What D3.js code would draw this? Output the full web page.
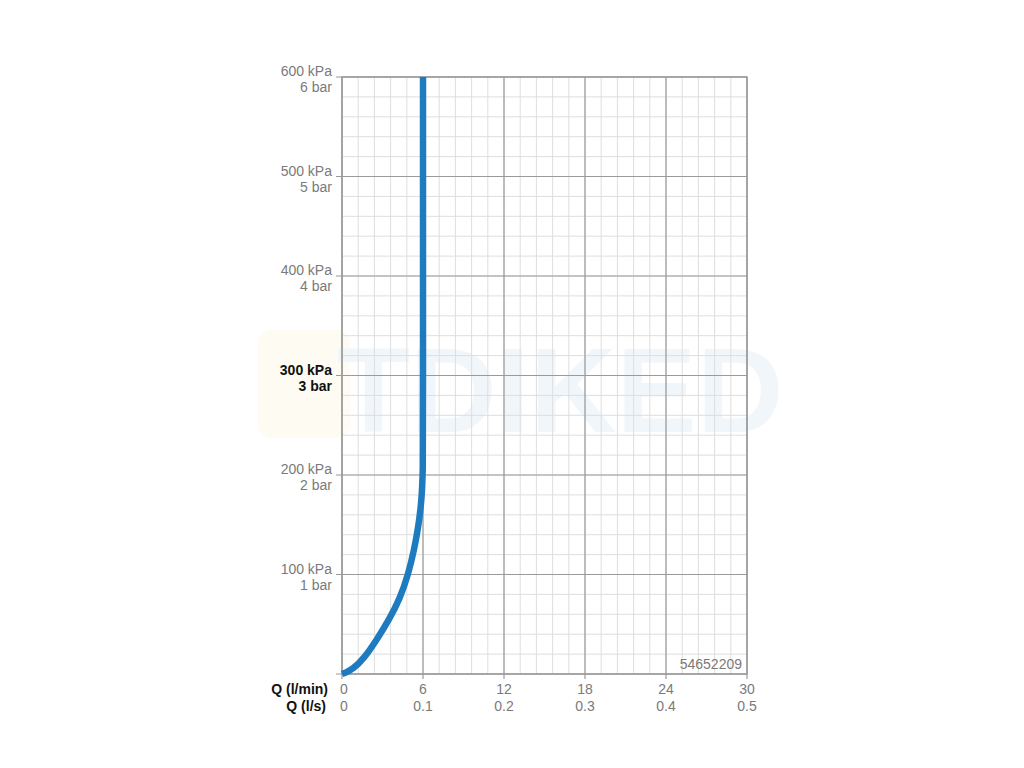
<!DOCTYPE html>
<html>
<head>
<meta charset="utf-8">
<script src="https://cdn.jsdelivr.net/npm/d3@7"></script>
<style>
  body { margin: 0; background: #fff; }
  text { font-family: "Liberation Sans", Arial, sans-serif; }
</style>
</head>
<body>
<script>
// courbe débit / pression
const flowLmin = [0, 0.3, 0.8, 1.6, 2.6, 3.5, 4.3, 4.9, 5.35, 5.68, 5.9, 6.0, 6.0, 6.0];
const pressureKpa = [0, 1.5, 5, 15, 35, 55, 76, 100, 125, 150, 175, 205, 260, 600];

// graduations
const xTicksLmin = [0, 6, 12, 18, 24, 30];
const xTicksLs = ["0", "0.1", "0.2", "0.3", "0.4", "0.5"];
const yTicksKpa = [100, 200, 300, 400, 500, 600];
const yTicksBar = ["1 bar", "2 bar", "3 bar", "4 bar", "5 bar", "6 bar"];
const boldKpa = 300;
const codeLabel = "54652209";

const width = 1024, height = 768;
const plotLeft = 342, plotRight = 747, plotTop = 77, plotBottom = 674;

const svg = d3.select("body").append("svg")
    .attr("width", width)
    .attr("height", height);

const x = d3.scaleLinear().domain([0, 30]).range([plotLeft, plotRight]);
const y = d3.scaleLinear().domain([0, 600]).range([plotBottom, plotTop]);

// filigrane discret
const wm = svg.append("g").attr("opacity", 0.06);
wm.append("rect")
    .attr("x", 258).attr("y", 330).attr("width", 92).attr("height", 108)
    .attr("rx", 14).style("fill", "#e8c23a");
wm.append("text")
    .attr("x", 560).attr("y", 432)
    .attr("text-anchor", "middle")
    .style("font-size", "120px").style("font-weight", "bold")
    .style("fill", "#1f7bc0")
    .text("TDIKED");

const g = svg.append("g");

// grille mineure
g.selectAll(".vminor")
    .data(d3.range(0, 30.01, 1.2))
    .enter().append("line")
    .attr("x1", d => x(d)).attr("x2", d => x(d))
    .attr("y1", plotTop).attr("y2", plotBottom)
    .style("stroke", "#dedede").style("stroke-width", 1);

g.selectAll(".hminor")
    .data(d3.range(0, 600.01, 20))
    .enter().append("line")
    .attr("x1", plotLeft).attr("x2", plotRight)
    .attr("y1", d => y(d)).attr("y2", d => y(d))
    .style("stroke", "#dedede").style("stroke-width", 1);

// grille majeure
g.selectAll(".vmajor")
    .data(xTicksLmin)
    .enter().append("line")
    .attr("x1", d => x(d)).attr("x2", d => x(d))
    .attr("y1", plotTop).attr("y2", plotBottom + 5)
    .style("stroke", "#9a9a9a").style("stroke-width", 1.2);

g.selectAll(".hmajor")
    .data([0].concat(yTicksKpa))
    .enter().append("line")
    .attr("x1", plotLeft - 6).attr("x2", plotRight)
    .attr("y1", d => y(d)).attr("y2", d => y(d))
    .style("stroke", "#9a9a9a").style("stroke-width", 1.2);

// cadre
g.append("rect")
    .attr("x", plotLeft).attr("y", plotTop)
    .attr("width", plotRight - plotLeft).attr("height", plotBottom - plotTop)
    .style("fill", "none").style("stroke", "#9a9a9a").style("stroke-width", 1.4);

// labels axe Y
const yl = g.selectAll(".ylab")
    .data(yTicksKpa)
    .enter().append("text")
    .attr("text-anchor", "end")
    .style("font-size", "14px")
    .style("fill", d => d === boldKpa ? "#111" : "#7a7a7a")
    .style("font-weight", d => d === boldKpa ? "bold" : "normal");
yl.append("tspan").attr("x", 332).attr("y", d => y(d) - 1).text(d => d + " kPa");
yl.append("tspan").attr("x", 332).attr("y", d => y(d) + 15).text((d, i) => yTicksBar[i]);

// labels axe X
g.selectAll(".xlab1")
    .data(xTicksLmin)
    .enter().append("text")
    .attr("x", d => x(d) + (d === 0 ? 2 : 0)).attr("y", 694)
    .attr("text-anchor", "middle")
    .style("font-size", "14px").style("fill", "#7a7a7a")
    .text(d => d);

g.selectAll(".xlab2")
    .data(xTicksLmin)
    .enter().append("text")
    .attr("x", (d, i) => x(d) + (i === 0 ? 2 : 0)).attr("y", 711)
    .attr("text-anchor", "middle")
    .style("font-size", "14px").style("fill", "#7a7a7a")
    .text((d, i) => xTicksLs[i]);

g.append("text")
    .attr("x", 328).attr("y", 694).attr("text-anchor", "end")
    .style("font-size", "14px").style("font-weight", "bold").style("fill", "#111")
    .text("Q (l/min)");
g.append("text")
    .attr("x", 326).attr("y", 711).attr("text-anchor", "end")
    .style("font-size", "14px").style("font-weight", "bold").style("fill", "#111")
    .text("Q (l/s)");

g.append("text")
    .attr("x", 742).attr("y", 669).attr("text-anchor", "end")
    .style("font-size", "14px").style("fill", "#7a7a7a")
    .text(codeLabel);

// courbe
const pts = flowLmin.map((q, i) => [q, pressureKpa[i]]);
const line = d3.line()
    .x(d => x(d[0]))
    .y(d => y(d[1]))
    .curve(d3.curveBasis);

g.append("path")
    .datum(pts)
    .attr("d", line)
    .style("fill", "none")
    .style("stroke", "#1f7bc0")
    .style("stroke-width", 6.5)
    .style("stroke-linecap", "butt");
</script>
</body>
</html>
